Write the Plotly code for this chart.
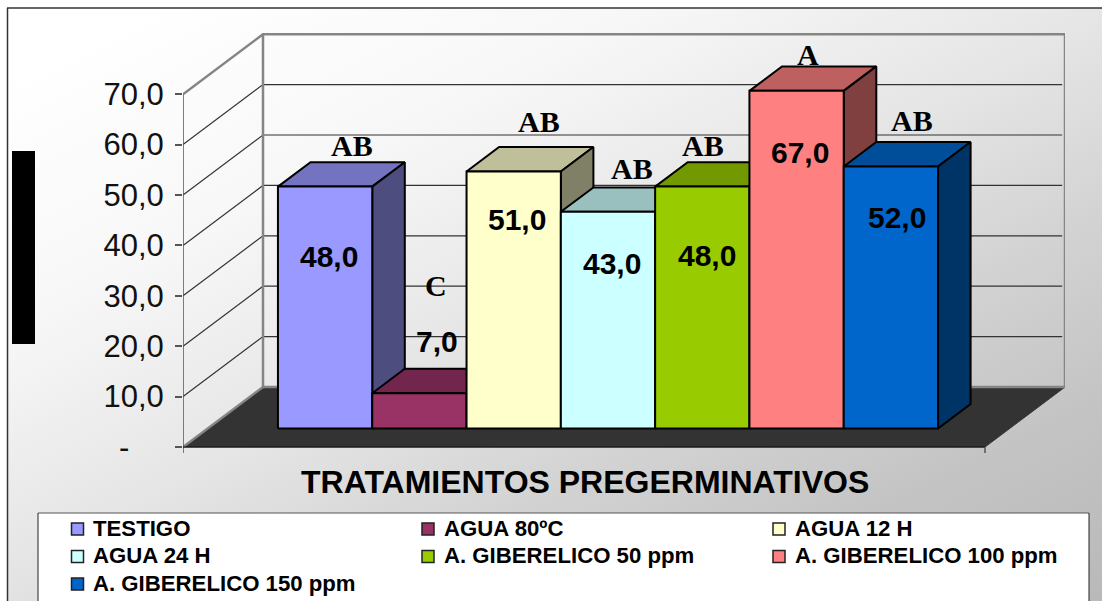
import plotly.graph_objects as go
from urllib.parse import quote

# ---- data ----
series_names = ["TESTIGO", "AGUA 80ºC", "AGUA 12 H", "AGUA 24 H",
                "A. GIBERELICO 50 ppm", "A. GIBERELICO 100 ppm", "A. GIBERELICO 150 ppm"]
series_values = [48.0, 7.0, 51.0, 43.0, 48.0, 67.0, 52.0]
group_letters = ["AB", "C", "AB", "AB", "AB", "A", "AB"]
y_tick_values = [0, 10, 20, 30, 40, 50, 60, 70]
y_tick_labels = ["-\u00a0\u00a0\u00a0\u00a0", "10,0", "20,0", "30,0", "40,0", "50,0", "60,0", "70,0"]
x_title = "TRATAMIENTOS PREGERMINATIVOS"

# ---- styles ----
front_colors = ["#9999FF", "#993366", "#FFFFCC", "#CCFFFF", "#99CC00", "#FF8080", "#0066CC"]
top_colors = ["#7373BF", "#73264D", "#BFBF99", "#99BFBF", "#739900", "#BF6060", "#004D99"]
side_colors = ["#4D4D80", "#4D1A33", "#808066", "#668080", "#4D6600", "#804040", "#003366"]

# ---- layout geometry (window pixels) ----
W, H = 1102, 601
PX_PER_Y = 5.04
PX_PER_BAR = 94.3
AX_L, AX_R, AX_T, AX_B = 183, 1065, 33, 460
Y0_PX = 447
X0_PX = 253.3
DEPTH_X = 80 / PX_PER_BAR
DEPTH_Y = 60 / PX_PER_Y
Z1, Z2 = 0.308, 0.715
FRONT_END = (985 - X0_PX) / PX_PER_BAR
FRONT_START = (AX_L - X0_PX) / PX_PER_BAR
Y_TOP = (Y0_PX - AX_T) / PX_PER_Y
Y_MIN = (Y0_PX - AX_B) / PX_PER_Y


def proj(x, y, z):
    return x + z * DEPTH_X, y + z * DEPTH_Y


def poly(points, fill, line_color="black", width=2):
    xs, ys = zip(*[proj(*p) for p in points])
    return go.Scatter(x=list(xs) + [xs[0]], y=list(ys) + [ys[0]], mode="lines", fill="toself",
                      fillcolor=fill, line=dict(color=line_color, width=width),
                      hoverinfo="skip", showlegend=False)


def seg(points, color, width):
    xs, ys = zip(*[proj(*p) for p in points])
    return go.Scatter(x=list(xs), y=list(ys), mode="lines", line=dict(color=color, width=width),
                      hoverinfo="skip", showlegend=False, cliponaxis=False)


fig = go.Figure()
# floor
fig.add_trace(poly([(FRONT_START, 0, 0), (FRONT_START, 0, 1), (FRONT_END, 0, 1), (FRONT_END, 0, 0)],
                   "#333333", "#333333", 1))
# grid lines: side wall and back wall
for v in y_tick_values[1:-1]:
    fig.add_trace(seg([(FRONT_START, v, 0), (FRONT_START, v, 1), (FRONT_END - 0.03, v, 1)], "#333333", 1.2))
# wall frame
fig.add_trace(seg([(FRONT_START, 70, 0), (FRONT_START, 70, 1), (FRONT_END, 70, 1), (FRONT_END, 0, 1),
                   (FRONT_START, 0, 1), (FRONT_START, 70, 1)], "#858585", 2.5))
fig.add_trace(seg([(FRONT_START, 0, 0), (FRONT_START, 0, 1)], "#858585", 2.5))
# axis lines
fig.add_trace(seg([(FRONT_START, 70, 0), (FRONT_START, -1.2, 0)], "#555555", 1.5))
fig.add_trace(seg([(FRONT_START, 0, 0), (FRONT_END, 0, 0)], "#111111", 1.2))
fig.add_trace(seg([(FRONT_END, 0, 0), (FRONT_END, -1.2, 0)], "#555555", 1.5))

# 3D bars, painted left to right
for i, v in enumerate(series_values):
    l, r = i, i + 1
    fig.add_trace(poly([(l, v, Z1), (l, v, Z2), (r, v, Z2), (r, v, Z1)], top_colors[i]))
    fig.add_trace(poly([(r, 0, Z1), (r, 0, Z2), (r, v, Z2), (r, v, Z1)], side_colors[i]))
    fig.add_trace(poly([(l, 0, Z1), (l, v, Z1), (r, v, Z1), (r, 0, Z1)], front_colors[i]))

# legend entries, on the pixel overlay axes
legend_x = [77.5, 428, 779]
legend_y = [529, 556.5, 584]
annotations = []
for i, name in enumerate(series_names):
    fig.add_trace(go.Scatter(
        x=[legend_x[i % 3]], y=[legend_y[i // 3]], xaxis="x2", yaxis="y2", mode="markers",
        marker=dict(symbol="square", size=12, color=front_colors[i], line=dict(color="#222222", width=1.5)),
        hoverinfo="skip", showlegend=False, name=name))
    annotations.append(dict(x=legend_x[i % 3] + 13.5, y=legend_y[i // 3] - 1, xref="x2", yref="y2", showarrow=False,
                            xanchor="left", text=name,
                            font=dict(family="Liberation Sans", size=22.2, color="black", weight="bold")))

# text labels
value_x = [329, 437, 517, 612, 707, 800, 897]
value_y = [256, 341, 219, 263, 255, 152, 217]
letter_x = [352, 436, 539, 632, 703, 808, 912]
letter_y = [145, 285, 121, 168, 145, 54, 120]
for i, v in enumerate(series_values):
    annotations.append(dict(x=value_x[i], y=value_y[i], xref="x2", yref="y2", showarrow=False,
                            text=f"{v:.1f}".replace(".", ","),
                            font=dict(family="Liberation Sans", size=30, color="black", weight="bold")))
    annotations.append(dict(x=letter_x[i], y=letter_y[i], xref="x2", yref="y2", showarrow=False,
                            text=group_letters[i],
                            font=dict(family="Liberation Serif", size=30, color="black", weight="bold")))
annotations.append(dict(x=585, y=482, xref="x2", yref="y2", showarrow=False, text=x_title,
                        font=dict(family="Liberation Sans", size=32, color="black", weight="bold")))

svg = ("<svg xmlns='http://www.w3.org/2000/svg' width='1094' height='593'>"
       "<defs><linearGradient id='g' gradientUnits='userSpaceOnUse' x1='0' y1='0' x2='480' y2='960'>"
       "<stop offset='0.06' stop-color='#ffffff'/><stop offset='0.27' stop-color='#f7f7f7'/>"
       "<stop offset='0.458' stop-color='#e6e6e6'/><stop offset='0.625' stop-color='#d3d3d3'/>"
       "<stop offset='0.79' stop-color='#c3c3c3'/><stop offset='1' stop-color='#b6b6b6'/>"
       "</linearGradient></defs>"
       "<rect width='1094' height='593' fill='url(#g)'/></svg>")


def px(x):
    return x / W


def py(y):
    return 1 - y / H


def line_shape(x0, y0, x1, y1, color="#333333", width=1.5):
    return dict(type="line", xref="paper", yref="paper", x0=px(x0), y0=py(y0), x1=px(x1), y1=py(y1),
                line=dict(color=color, width=width), layer="below")


fig.update_layout(
    width=W, height=H, margin=dict(l=0, r=0, t=0, b=0, pad=0, autoexpand=False), autosize=False,
    paper_bgcolor="white", plot_bgcolor="rgba(0,0,0,0)", showlegend=False,
    images=[dict(source="data:image/svg+xml;utf8," + quote(svg), xref="paper", yref="paper",
                 x=px(8), y=py(8), sizex=px(1094), sizey=593 / H, xanchor="left", yanchor="top",
                 sizing="stretch", layer="below")],
    shapes=[
        line_shape(7.5, 8, 7.5, H),
        line_shape(7, 8, 1102, 8),
        dict(type="rect", xref="paper", yref="paper", x0=px(12), y0=py(344), x1=px(35), y1=py(151),
             fillcolor="black", line=dict(width=0), layer="below"),
        dict(type="rect", xref="paper", yref="paper", x0=px(38), y0=0, x1=px(1089), y1=py(513),
             fillcolor="white", line=dict(width=0), layer="below"),
        line_shape(38, 513, 1089, 513, "#555555", 1),
        line_shape(38, 513, 38, H, "#222222", 1),
        line_shape(1089, 513, 1089, H, "#222222", 1),
    ],
    annotations=annotations,
    xaxis=dict(domain=[px(AX_L), px(AX_R)],
               range=[(AX_L - X0_PX) / PX_PER_BAR, (AX_R - X0_PX) / PX_PER_BAR],
               visible=False, fixedrange=True),
    yaxis=dict(domain=[py(AX_B), py(AX_T)], range=[Y_MIN, Y_TOP], tickmode="array",
               tickvals=y_tick_values, ticktext=y_tick_labels, ticks="outside", ticklen=7, tickwidth=1.5,
               tickcolor="#555555", showgrid=False, zeroline=False, showline=False,
               ticklabelstandoff=5, tickfont=dict(family="Liberation Sans", size=31, color="#111111"),
               fixedrange=True),
    xaxis2=dict(domain=[0, 1], range=[0, W], visible=False, anchor="y2", fixedrange=True),
    yaxis2=dict(domain=[0, 1], range=[H, 0], visible=False, anchor="x2", fixedrange=True),
)

fig.write_html("out.html", config=dict(displayModeBar=False),
               post_script="document.body.style.margin='0';document.body.style.overflow='hidden';")
